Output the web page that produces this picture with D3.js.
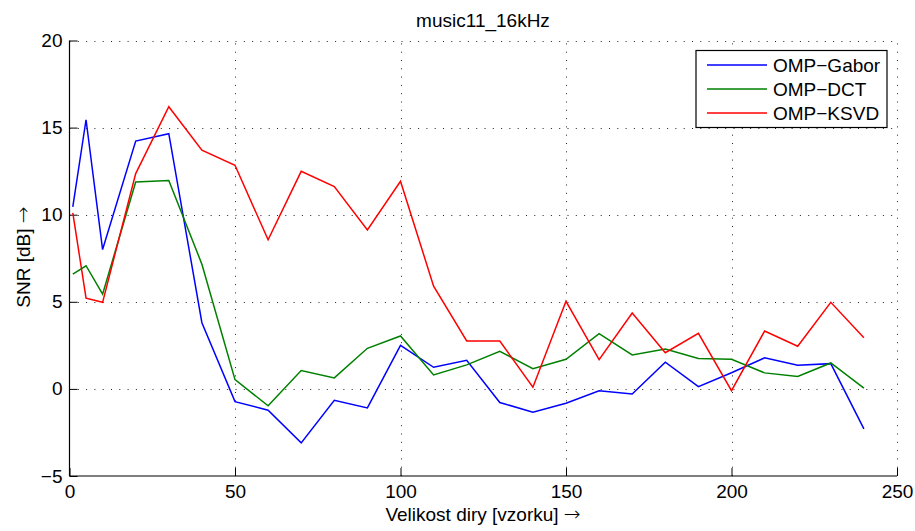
<!DOCTYPE html>
<html>
<head>
<meta charset="utf-8">
<script src="https://cdn.jsdelivr.net/npm/d3@7"></script>
<style>
  html, body { margin: 0; padding: 0; background: #fff; }
  svg { display: block; font-family: "Liberation Sans", Arial, Helvetica, sans-serif; }
</style>
</head>
<body>
<svg id="chart" width="915" height="531"></svg>
<script>
// Gap length in samples
const gapSizes = [1, 5, 10, 20, 30, 40, 50, 60, 70, 80, 90, 100, 110, 120, 130, 140, 150, 160, 170, 180, 190, 200, 210, 220, 230, 240];

// SNR in dB for each reconstruction method
const snrGabor = [10.45, 15.45, 8.0, 14.23, 14.65, 3.8, -0.73, -1.22, -3.1, -0.65, -1.09, 2.5, 1.24, 1.64, -0.78, -1.34, -0.82, -0.11, -0.29, 1.53, 0.13, 0.93, 1.78, 1.36, 1.45, -2.29];
const snrDCT   = [6.59, 7.07, 5.44, 11.88, 11.96, 7.16, 0.53, -0.97, 1.05, 0.63, 2.33, 3.04, 0.8, 1.38, 2.16, 1.16, 1.70, 3.17, 1.95, 2.29, 1.74, 1.70, 0.92, 0.71, 1.49, 0.04];
const snrKSVD  = [10.1, 5.21, 4.97, 12.36, 16.2, 13.7, 12.84, 8.56, 12.49, 11.62, 9.13, 11.92, 5.9, 2.75, 2.75, 0.1, 5.03, 1.68, 4.36, 2.08, 3.19, -0.1, 3.32, 2.45, 4.97, 2.94];

const seriesNames = ["OMP\u2212Gabor", "OMP\u2212DCT", "OMP\u2212KSVD"];
const seriesColors = ["#0000ff", "#008000", "#ff0000"];

const xTicks = [0, 50, 100, 150, 200, 250];
const yTicks = [-5, 0, 5, 10, 15, 20];

const titleText = "music11_16kHz";
const xLabel = "Velikost diry [vzorku]";
const yLabel = "SNR [dB]";
const arrow = "\u2192";

const series = [snrGabor, snrDCT, snrKSVD].map((vals, i) => ({
  name: seriesNames[i],
  color: seriesColors[i],
  points: gapSizes.map((g, j) => ({ x: g, y: vals[j] }))
}));

const svg = d3.select("#chart");
const plotLeft = 69.5, plotRight = 897, plotTop = 40.5, plotBottom = 476;
const fontSize = 19;

const x = d3.scaleLinear().domain([0, 250]).range([plotLeft, plotRight]);
const y = d3.scaleLinear().domain([-5, 20]).range([plotBottom, plotTop]);

// dotted grid
const grid = svg.append("g").attr("stroke", "#222").attr("stroke-width", 1)
  .attr("stroke-dasharray", "1,7.3");
grid.selectAll("line.gx").data(xTicks.filter(t => t > 0)).join("line")
  .attr("x1", d => Math.round(x(d)) + 0.5).attr("x2", d => Math.round(x(d)) + 0.5)
  .attr("y1", plotBottom).attr("y2", plotTop);
grid.selectAll("line.gy").data(yTicks.filter(t => t > -5)).join("line")
  .attr("y1", d => Math.round(y(d)) + 0.5).attr("y2", d => Math.round(y(d)) + 0.5)
  .attr("x1", plotLeft).attr("x2", plotRight);

// axes with inward ticks
const fmt = d => d < 0 ? "\u2212" + Math.abs(d) : d;
const xAxis = d3.axisBottom(x).tickValues(xTicks).tickSize(-8).tickPadding(9).tickFormat(fmt);
const yAxis = d3.axisLeft(y).tickValues(yTicks).tickSize(-8).tickPadding(7).tickFormat(fmt);

const gx = svg.append("g").attr("transform", `translate(0,${plotBottom})`).call(xAxis);
const gy = svg.append("g").attr("transform", `translate(${plotLeft},0)`).call(yAxis);
[gx, gy].forEach(g => {
  g.select(".domain").attr("stroke", "#000").attr("stroke-width", 1.2);
  g.selectAll(".tick line").attr("stroke", "#000");
  g.selectAll(".tick text").attr("fill", "#000").attr("font-size", fontSize)
    .attr("font-family", "Liberation Sans, Arial, sans-serif");
});
gx.select(".domain").attr("d", `M${plotLeft},0H${plotRight}`);
gy.select(".domain").attr("d", `M0,${plotBottom}V${plotTop}`);
gx.selectAll(".tick text").attr("dy", "0.71em");

// data lines
const line = d3.line().x(d => x(d.x)).y(d => y(d.y));
svg.append("g").selectAll("path").data(series).join("path")
  .attr("d", d => line(d.points))
  .attr("fill", "none")
  .attr("stroke", d => d.color)
  .attr("stroke-width", 1.5)
  .attr("stroke-linejoin", "miter");

// title and axis labels
svg.append("text").attr("x", 483).attr("y", 26.5).attr("text-anchor", "middle")
  .attr("font-size", fontSize).text(titleText);

function labelWithArrow(sel, text) {
  sel.append("tspan").text(text + " ");
  sel.append("tspan").attr("font-family", "DejaVu Sans").attr("font-weight", 200)
    .attr("font-size", 20).text(arrow);
}
svg.append("text").attr("x", 483).attr("y", 521).attr("text-anchor", "middle")
  .attr("font-size", fontSize).call(labelWithArrow, xLabel);
svg.append("text").attr("transform", "translate(29.5,257) rotate(-90)")
  .attr("text-anchor", "middle").attr("font-size", fontSize).call(labelWithArrow, yLabel);

// legend
const lg = svg.append("g");
lg.append("rect").attr("x", 696).attr("y", 50.5).attr("width", 191).attr("height", 77)
  .attr("fill", "#fff").attr("stroke", "#000").attr("stroke-width", 1.2);
const rows = lg.selectAll("g.row").data(series).join("g")
  .attr("transform", (d, i) => `translate(0,${65 + i * 24})`);
rows.append("line").attr("x1", 707).attr("x2", 767).attr("y1", 0).attr("y2", 0)
  .attr("stroke", d => d.color).attr("stroke-width", 1.5);
rows.append("text").attr("x", 773).attr("y", 0).attr("dy", "0.35em")
  .attr("font-size", fontSize).text(d => d.name);
</script>
</body>
</html>
